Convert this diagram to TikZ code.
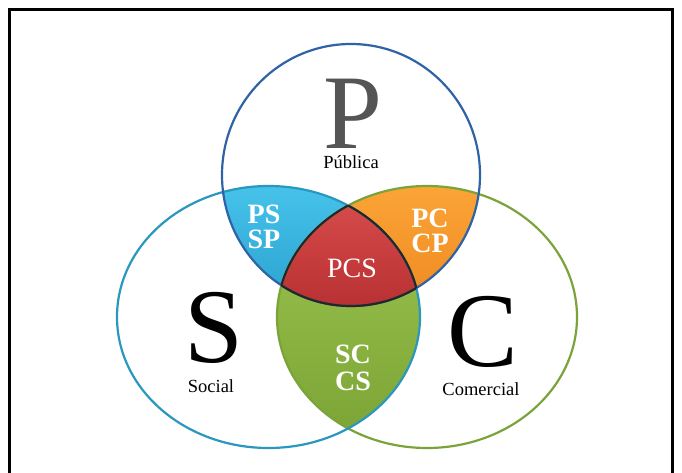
\documentclass[tikz,border=0pt]{standalone}
\usepackage{fontspec}
\setmainfont{Liberation Serif}
\definecolor{pline}{RGB}{48,98,166}
\definecolor{sline}{RGB}{42,152,190}
\definecolor{cline}{RGB}{122,164,58}
\definecolor{psA}{RGB}{72,196,236}
\definecolor{psB}{RGB}{38,158,204}
\definecolor{pcA}{RGB}{252,166,56}
\definecolor{pcB}{RGB}{236,134,30}
\definecolor{pcsA}{RGB}{216,76,76}
\definecolor{pcsB}{RGB}{184,48,50}
\definecolor{scA}{RGB}{156,198,80}
\definecolor{scB}{RGB}{124,164,54}
\definecolor{bigp}{RGB}{85,85,85}
\tikzset{
  ring/.style={line width=2.2pt},
  seam/.style={line width=2.2pt, draw=black!85},
  big/.style={anchor=base, inner sep=0pt, text depth=0pt, font=\fontsize{106}{106}\selectfont},
  capt/.style={anchor=base, inner sep=0pt, text height=11pt, text depth=0pt, font=\fontsize{18.5}{20}\selectfont},
  zone/.style={anchor=base, inner sep=0pt, text=white, font=\bfseries\fontsize{28}{28}\selectfont},
}
\begin{document}
\begin{tikzpicture}[x=1pt,y=-1pt]
\useasboundingbox (0,0) rectangle (682,473);
\fill[white] (0,0) rectangle (682,473);
\draw[line width=2.4pt] (9.5,480) -- (9.5,9.5) -- (672.5,9.5) -- (672.5,480);

% P and S
\begin{scope}
  \clip (351,175) ellipse [x radius=129pt, y radius=131pt];
  \clip (268.5,317) ellipse [x radius=151.5pt, y radius=131pt];
  \shade[top color=psA, bottom color=psB] (200,180) rectangle (360,320);
\end{scope}
% P and C
\begin{scope}
  \clip (351,175) ellipse [x radius=129pt, y radius=131pt];
  \clip (427,317) ellipse [x radius=150pt, y radius=131pt];
  \shade[top color=pcA, bottom color=pcB] (340,180) rectangle (490,320);
\end{scope}
% S and C
\begin{scope}
  \clip (268.5,317) ellipse [x radius=151.5pt, y radius=131pt];
  \clip (427,317) ellipse [x radius=150pt, y radius=131pt];
  \shade[top color=scA, bottom color=scB] (270,190) rectangle (430,440);
\end{scope}
% P, S and C
\begin{scope}
  \clip (351,175) ellipse [x radius=129pt, y radius=131pt];
  \clip (268.5,317) ellipse [x radius=151.5pt, y radius=131pt];
  \clip (427,317) ellipse [x radius=150pt, y radius=131pt];
  \shade[top color=pcsA, bottom color=pcsB] (270,195) rectangle (430,310);
\end{scope}

% outlines
\draw[ring, draw=cline] (427,317) ellipse [x radius=150pt, y radius=131pt];
\draw[ring, draw=sline] (268.5,317) ellipse [x radius=151.5pt, y radius=131pt];
\draw[ring, draw=pline] (351,175) ellipse [x radius=129pt, y radius=131pt];

% black seams of the central region
\begin{scope}
  \clip (351,175) ellipse [x radius=129pt, y radius=131pt];
  \clip (427,317) ellipse [x radius=150pt, y radius=131pt];
  \draw[seam] (268.5,317) ellipse [x radius=151.5pt, y radius=131pt];
\end{scope}
\begin{scope}
  \clip (351,175) ellipse [x radius=129pt, y radius=131pt];
  \clip (268.5,317) ellipse [x radius=151.5pt, y radius=131pt];
  \draw[seam] (427,317) ellipse [x radius=150pt, y radius=131pt];
\end{scope}
\begin{scope}
  \clip (268.5,317) ellipse [x radius=151.5pt, y radius=131pt];
  \clip (427,317) ellipse [x radius=150pt, y radius=131pt];
  \draw[seam] (351,175) ellipse [x radius=129pt, y radius=131pt];
\end{scope}

% texts
\node[big, text=bigp] (lp) at (353,149) {P};
\node[capt] (lpub) at (351,169) {Pública};
\node[big] (ls) at (214,362) {S};
\node[capt] (lsoc) at (211,392) {Social};
\node[big] (lc) at (483,366) {C};
\node[capt] (lcom) at (481,395) {Comercial};
\node[zone] (ps) at (264,223) {PS};
\node[zone] (sp) at (264,248) {SP};
\node[zone] (pc) at (430,227) {PC};
\node[zone] (cp) at (430,252) {CP};
\node[zone, font=\fontsize{28}{28}\selectfont] (pcs) at (352,277) {PCS};
\node[zone] (sc) at (353,363) {SC};
\node[zone] (cs) at (353,390) {CS};
\end{tikzpicture}
\end{document}
